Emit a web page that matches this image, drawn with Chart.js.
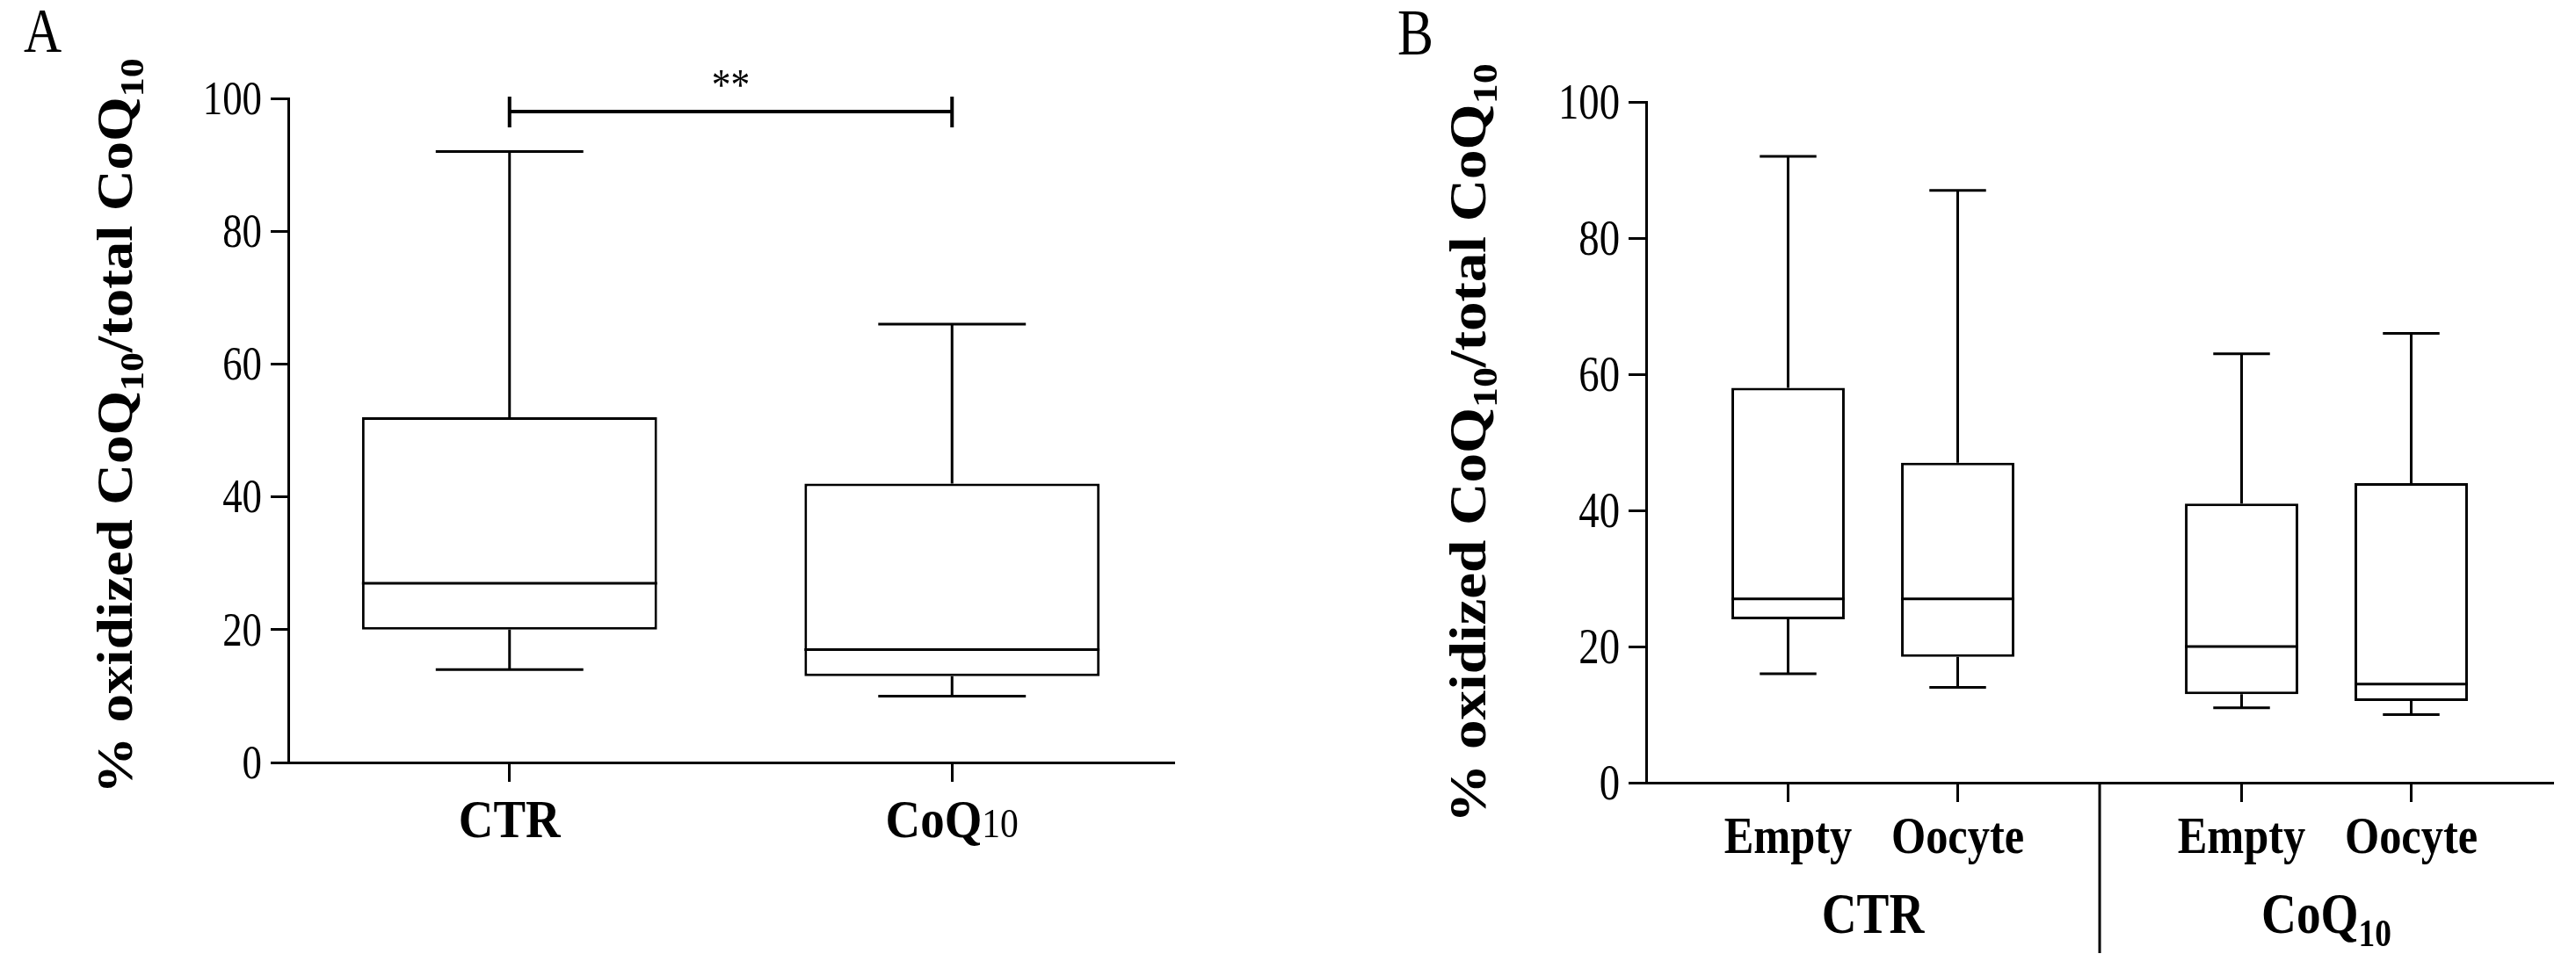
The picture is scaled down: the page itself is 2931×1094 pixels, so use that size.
<!DOCTYPE html>
<html lang="en">
<head>
    <meta charset="UTF-8">
    <title>Oxidized CoQ10 box plots</title>
    <style>
        body {
            margin: 0;
            padding: 0;
            background-color: #ffffff;
        }

        #wrap {
            position: relative;
            width: 2931px;
            height: 1094px;
            overflow: hidden;
        }

        canvas {
            position: absolute;
            top: 0;
        }

        #chartA { left: 0; }
        #chartB { left: 1450px; }
    </style>
</head>
<body>
    <div id="wrap">
        <canvas id="chartA" width="1450" height="1094"></canvas>
        <canvas id="chartB" width="1481" height="1094"></canvas>
    </div>

    <script src="https://cdn.jsdelivr.net/npm/chart.js"></script>
    <script>
        // Panel A: treatment groups
        const groupsA = ['CTR', 'CoQ10'];
        const minA = [14, 10];
        const q1A = [20, 13];
        const medA = [27, 17];
        const q3A = [52, 42];
        const maxA = [92, 66];

        // significance bar between the two groups of panel A
        const sigPair = [0, 1];
        const sigLevel = 98;
        const sigText = '**';

        // Panel B: follicle type within each treatment group
        const groupsB = ['CTR', 'CoQ10'];
        const follicles = ['Empty', 'Oocyte'];
        const emptyMin = [16, 11];
        const emptyQ1 = [24, 13];
        const emptyMed = [27, 20];
        const emptyQ3 = [58, 41];
        const emptyMax = [92, 63];
        const oocyteMin = [14, 10];
        const oocyteQ1 = [18.5, 12];
        const oocyteMed = [27, 14.5];
        const oocyteQ3 = [47, 44];
        const oocyteMax = [87, 66];

        const yTicks = { min: 0, max: 100, step: 20 };

        const SERIF = '"Liberation Serif", "Times New Roman", serif';
        const f = (size, bold) => (bold ? 'bold ' : '') + size + 'px ' + SERIF;

        // draw text made of several runs (different fonts / offsets), squeezed horizontally by sx
        function drawRuns(ctx, runs, x, y, align, sx) {
            ctx.save();
            let w = 0;
            runs.forEach(r => {
                ctx.font = r.font;
                r.w = ctx.measureText(r.t).width;
                w += r.w;
            });
            let cx = align === 'center' ? -w / 2 : (align === 'right' ? -w : 0);
            ctx.translate(x, y);
            ctx.scale(sx, 1);
            ctx.fillStyle = '#000';
            ctx.textAlign = 'left';
            ctx.textBaseline = 'alphabetic';
            runs.forEach(r => {
                ctx.font = r.font;
                ctx.fillText(r.t, cx, r.dy || 0);
                cx += r.w;
            });
            ctx.restore();
        }

        function coqRuns(size, subSize, subBold, dy) {
            return [
                { t: 'CoQ', font: f(size, true) },
                { t: '10', font: f(subSize, subBold), dy: dy }
            ];
        }

        function drawYTitle(ctx, x, y, size) {
            const sub = Math.round(size * 0.68);
            const runs = [
                { t: '% oxidized CoQ', font: f(size, true) },
                { t: '10', font: f(sub, true), dy: 15 },
                { t: '/total CoQ', font: f(size, true) },
                { t: '10', font: f(sub, true), dy: 15 }
            ];
            ctx.save();
            ctx.translate(x, y);
            ctx.rotate(-Math.PI / 2);
            ctx.scale(1, 0.88);
            drawRuns(ctx, runs, 0, 0, 'center', 1);
            ctx.restore();
        }

        function drawYLabels(chart, size, sx) {
            const ctx = chart.ctx;
            const y = chart.scales.y;
            y.ticks.forEach((t, i) => {
                drawRuns(ctx, [{ t: String(t.value), font: f(size, false) }],
                    chart.chartArea.left - 30, y.getPixelForTick(i) + size * 0.33, 'right', sx);
            });
        }

        // whiskers, caps and medians on top of the floating bars
        const boxParts = {
            id: 'boxParts',
            afterDatasetsDraw(chart) {
                const ctx = chart.ctx;
                const y = chart.scales.y;
                chart.data.datasets.forEach((ds, di) => {
                    chart.getDatasetMeta(di).data.forEach((bar, i) => {
                        const x = bar.x;
                        const hw = bar.width / 2;
                        const yMed = y.getPixelForValue(ds.median[i]);
                        const yMax = y.getPixelForValue(ds.whiskerMax[i]);
                        const yMin = y.getPixelForValue(ds.whiskerMin[i]);
                        const yQ3 = y.getPixelForValue(ds.data[i][1]);
                        const yQ1 = y.getPixelForValue(ds.data[i][0]);
                        ctx.save();
                        ctx.strokeStyle = '#000';
                        ctx.lineWidth = 3;
                        ctx.beginPath();
                        ctx.moveTo(x - hw, yMed);
                        ctx.lineTo(x + hw, yMed);
                        ctx.moveTo(x, yQ3);
                        ctx.lineTo(x, yMax);
                        ctx.moveTo(x - hw / 2, yMax);
                        ctx.lineTo(x + hw / 2, yMax);
                        ctx.moveTo(x, yQ1);
                        ctx.lineTo(x, yMin);
                        ctx.moveTo(x - hw / 2, yMin);
                        ctx.lineTo(x + hw / 2, yMin);
                        ctx.stroke();
                        ctx.restore();
                    });
                });
            }
        };

        const axisLine = { width: 3, color: '#000' };

        function yScale(width) {
            return {
                min: yTicks.min,
                max: yTicks.max,
                ticks: { stepSize: yTicks.step, display: false },
                grid: { drawOnChartArea: false, tickLength: 20, lineWidth: 3, color: '#000' },
                border: axisLine,
                afterFit: s => { s.width = width; }
            };
        }

        const boxStyle = {
            backgroundColor: '#ffffff',
            borderColor: '#000',
            borderWidth: 3,
            borderSkipped: false
        };

        // ---------- Panel A ----------
        const panelA = {
            id: 'panelA',
            afterDraw(chart) {
                const ctx = chart.ctx;
                const area = chart.chartArea;
                const x = chart.scales.x;
                const y = chart.scales.y;

                drawRuns(ctx, [{ t: 'A', font: f(72, false) }], 27, 59, 'left', 0.83);
                drawYTitle(ctx, area.left - 178, (area.top + area.bottom) / 2 - 5, 65);
                drawYLabels(chart, 54, 0.83);

                drawRuns(ctx, [{ t: groupsA[0], font: f(62, true) }], x.getPixelForTick(0), area.bottom + 85, 'center', 0.885);
                drawRuns(ctx, coqRuns(62, 47, false, 0), x.getPixelForTick(1), area.bottom + 85, 'center', 0.885);

                // significance bar
                const x0 = x.getPixelForValue(sigPair[0]);
                const x1 = x.getPixelForValue(sigPair[1]);
                const ys = y.getPixelForValue(sigLevel);
                ctx.save();
                ctx.strokeStyle = '#000';
                ctx.lineWidth = 4;
                ctx.beginPath();
                ctx.moveTo(x0, ys);
                ctx.lineTo(x1, ys);
                ctx.moveTo(x0, ys - 17);
                ctx.lineTo(x0, ys + 18);
                ctx.moveTo(x1, ys - 17);
                ctx.lineTo(x1, ys + 18);
                ctx.stroke();
                ctx.restore();
                drawRuns(ctx, [{ t: sigText, font: f(50, false) }], (x0 + x1) / 2, ys - 14, 'center', 0.87);
            }
        };

        new Chart(document.getElementById('chartA'), {
            type: 'bar',
            data: {
                labels: groupsA,
                datasets: [Object.assign({
                    data: q1A.map((v, i) => [v, q3A[i]]),
                    median: medA,
                    whiskerMin: minA,
                    whiskerMax: maxA,
                    barPercentage: 0.667,
                    categoryPercentage: 1
                }, boxStyle)]
            },
            options: {
                responsive: false,
                animation: false,
                devicePixelRatio: 1,
                layout: { padding: { left: 0, top: 112, right: 115, bottom: 0 } },
                plugins: { legend: { display: false }, tooltip: { enabled: false } },
                scales: {
                    x: {
                        grid: { offset: false, drawOnChartArea: false, tickLength: 22, lineWidth: 3, color: '#000' },
                        border: axisLine,
                        ticks: { display: false },
                        afterFit: s => { s.height = 226; }
                    },
                    y: yScale(328)
                }
            },
            plugins: [boxParts, panelA]
        });

        // ---------- Panel B ----------
        const panelB = {
            id: 'panelB',
            afterDraw(chart) {
                const ctx = chart.ctx;
                const area = chart.chartArea;
                const x = chart.scales.x;

                drawRuns(ctx, [{ t: 'B', font: f(74, false) }], 140, 62, 'left', 0.83);
                drawYTitle(ctx, area.left - 183, (area.top + area.bottom) / 2 + 1, 67);
                drawYLabels(chart, 57, 0.82);

                ctx.save();
                ctx.strokeStyle = '#000';
                ctx.lineWidth = 3;
                ctx.beginPath();
                chart.data.datasets.forEach((ds, di) => {
                    chart.getDatasetMeta(di).data.forEach(bar => {
                        ctx.moveTo(bar.x, area.bottom);
                        ctx.lineTo(bar.x, area.bottom + 22);
                        drawRuns(ctx, [{ t: follicles[di], font: f(60, true) }], bar.x, area.bottom + 80, 'center', 0.84);
                    });
                });
                // divider between the two treatment groups
                const xd = (x.getPixelForValue(0) + x.getPixelForValue(1)) / 2;
                ctx.moveTo(xd, area.bottom);
                ctx.lineTo(xd, area.bottom + 194);
                ctx.stroke();
                ctx.restore();

                drawRuns(ctx, [{ t: groupsB[0], font: f(65, true) }], x.getPixelForValue(0), area.bottom + 171, 'center', 0.85);
                drawRuns(ctx, coqRuns(65, 44, true, 15), x.getPixelForValue(1), area.bottom + 171, 'center', 0.85);
            }
        };

        new Chart(document.getElementById('chartB'), {
            type: 'bar',
            data: {
                labels: groupsB,
                datasets: [
                    Object.assign({
                        label: follicles[0],
                        data: emptyQ1.map((v, i) => [v, emptyQ3[i]]),
                        median: emptyMed,
                        whiskerMin: emptyMin,
                        whiskerMax: emptyMax
                    }, boxStyle),
                    Object.assign({
                        label: follicles[1],
                        data: oocyteQ1.map((v, i) => [v, oocyteQ3[i]]),
                        median: oocyteMed,
                        whiskerMin: oocyteMin,
                        whiskerMax: oocyteMax
                    }, boxStyle)
                ]
            },
            options: {
                responsive: false,
                animation: false,
                devicePixelRatio: 1,
                datasets: { bar: { barPercentage: 0.668, categoryPercentage: 0.748 } },
                layout: { padding: { left: 0, top: 116, right: 26, bottom: 0 } },
                plugins: { legend: { display: false }, tooltip: { enabled: false } },
                scales: {
                    x: {
                        grid: { display: false },
                        border: axisLine,
                        ticks: { display: false },
                        afterFit: s => { s.height = 203; }
                    },
                    y: yScale(423)
                }
            },
            plugins: [boxParts, panelB]
        });
    </script>
</body>
</html>
